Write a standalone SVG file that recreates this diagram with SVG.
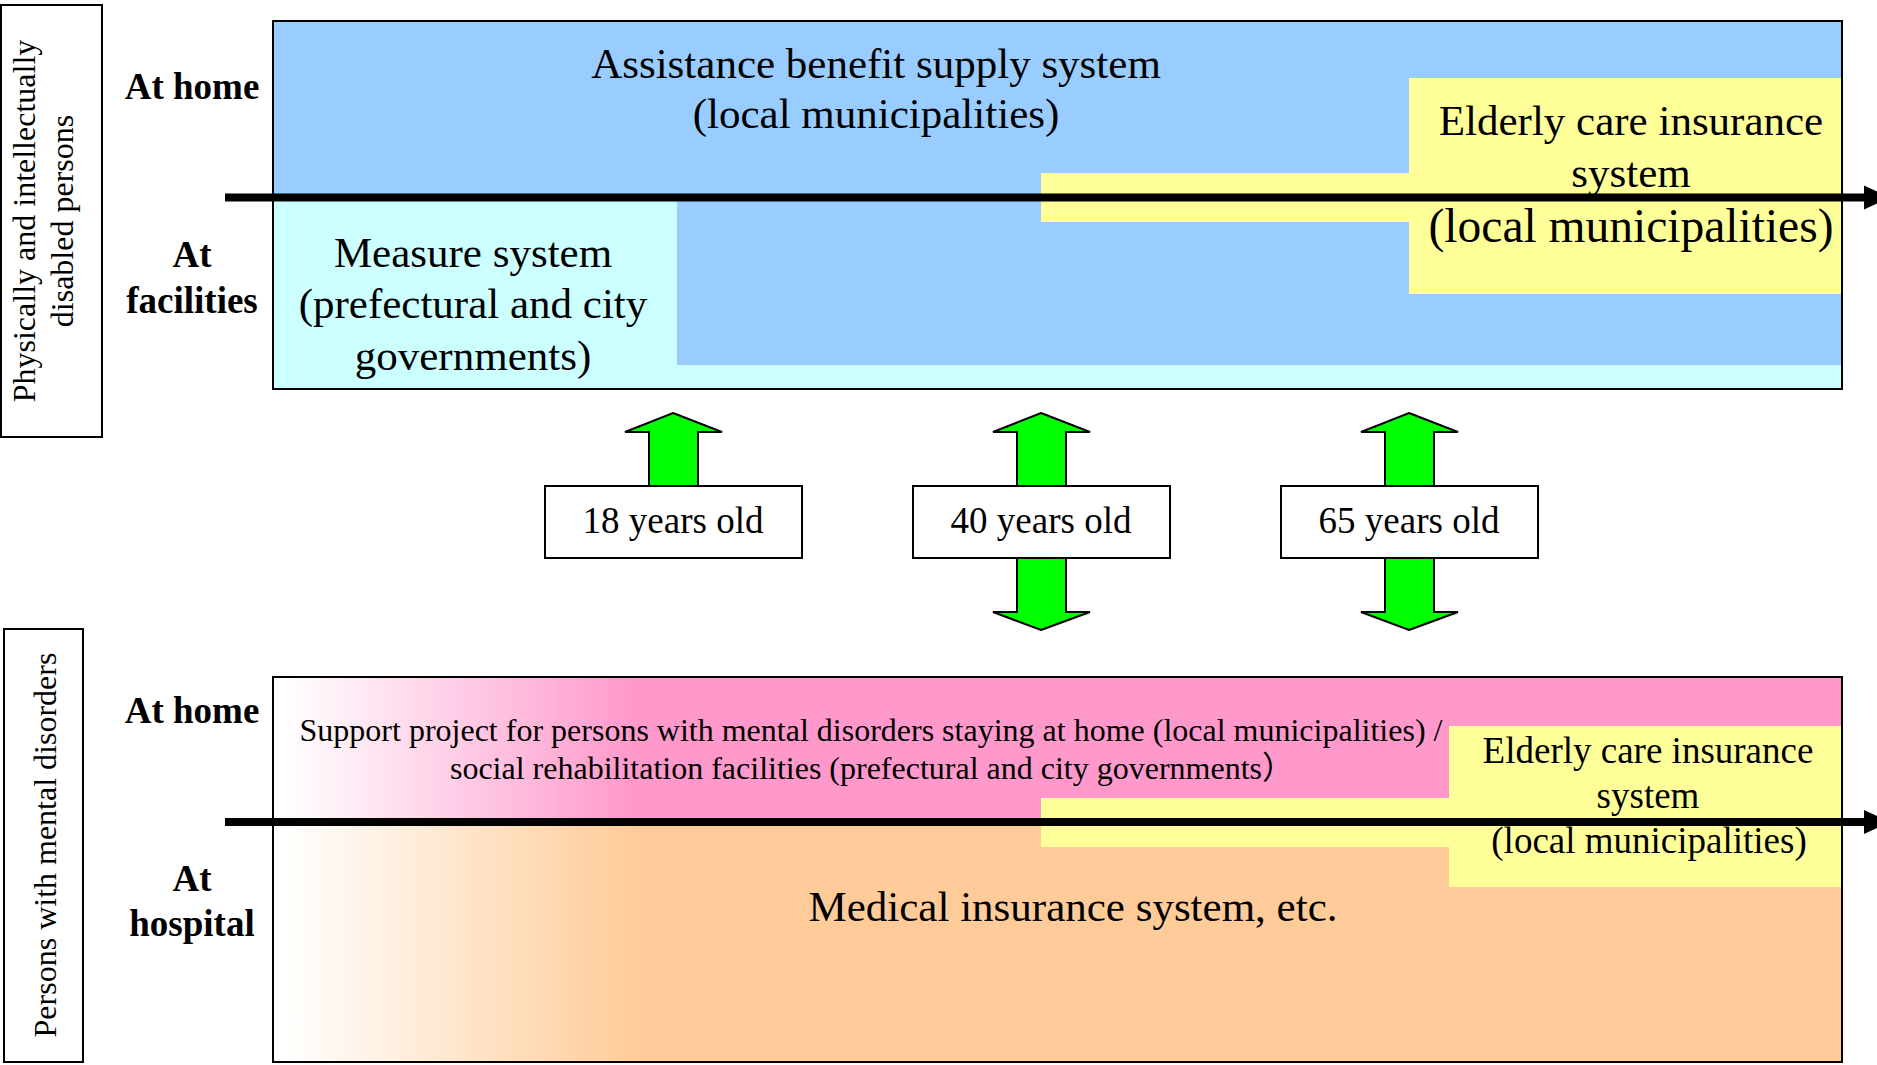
<svg xmlns="http://www.w3.org/2000/svg" width="1877" height="1065" viewBox="0 0 1877 1065">
<defs>
<linearGradient id="gPink" gradientUnits="userSpaceOnUse" x1="285" y1="0" x2="635" y2="0">
<stop offset="0" stop-color="#FFFFFF"/>
<stop offset="1" stop-color="#FF99CC"/>
</linearGradient>
<linearGradient id="gOrange" gradientUnits="userSpaceOnUse" x1="285" y1="0" x2="635" y2="0">
<stop offset="0" stop-color="#FFFFFF"/>
<stop offset="1" stop-color="#FFCC99"/>
</linearGradient>
<style>
text{font-family:"Liberation Serif","Times New Roman",serif;fill:#000}
.b{font-weight:bold;font-size:37px;text-anchor:middle}
.v{font-size:32px;text-anchor:middle}
.t43{font-size:43px;text-anchor:middle}
.t37{font-size:37px;text-anchor:middle}
.t32{font-size:32px;text-anchor:middle}
.frame{fill:none;stroke:#000;stroke-width:2}
.lbox{fill:#FFFFFF;stroke:#000;stroke-width:2}
.garrow{fill:#00FF00;stroke:#000;stroke-width:2;stroke-linejoin:miter}
.axis{stroke:#000;stroke-width:8;fill:none}
</style>
</defs>
<rect width="1877" height="1065" fill="#FFFFFF"/>

<g id="group-physical">
<rect class="frame" x="1" y="5" width="101" height="432"/>
<text class="v" transform="translate(35,221) rotate(-90)">Physically and intellectually</text>
<text class="v" transform="translate(73,221) rotate(-90)">disabled persons</text>
</g>

<g id="group-mental">
<rect class="frame" x="4" y="629" width="79" height="433"/>
<text class="v" transform="translate(56,845) rotate(-90)">Persons with mental disorders</text>
</g>

<g id="row-labels">
<text class="b" x="192" y="99">At home</text>
<text class="b" x="192" y="267">At</text>
<text class="b" x="192" y="313">facilities</text>
<text class="b" x="192" y="723">At home</text>
<text class="b" x="192" y="891">At</text>
<text class="b" x="192" y="936">hospital</text>
</g>

<g id="top-panel">
<rect x="273" y="21" width="1569" height="368" fill="#CCFFFF"/>
<rect x="273" y="21" width="1569" height="177" fill="#99CCFF"/>
<rect x="677" y="197" width="1165" height="168" fill="#99CCFF"/>
<g id="elderly-top">
<rect x="1041" y="173" width="801" height="49" fill="#FFFF99"/>
<rect x="1409" y="78" width="433" height="216" fill="#FFFF99"/>
</g>
<rect class="frame" x="273" y="21" width="1569" height="368"/>
<text class="t43" x="876" y="78">Assistance benefit supply system</text>
<text class="t43" x="876" y="128">(local municipalities)</text>
<text class="t43" x="473" y="267">Measure system</text>
<text class="t43" x="473" y="318">(prefectural and city</text>
<text class="t43" x="473" y="370">governments)</text>
<text class="t43" x="1631" y="135">Elderly care insurance</text>
<text class="t43" x="1631" y="187">system</text>
<text x="1631" y="242" style="font-size:47.5px;text-anchor:middle">(local municipalities)</text>
</g>

<g id="bottom-panel">
<rect x="273" y="677" width="1569" height="146" fill="url(#gPink)"/>
<rect x="273" y="822" width="1569" height="240" fill="url(#gOrange)"/>
<g id="elderly-bottom">
<rect x="1041" y="798" width="801" height="49" fill="#FFFF99"/>
<rect x="1449" y="726" width="393" height="161" fill="#FFFF99"/>
</g>
<rect class="frame" x="273" y="677" width="1569" height="385"/>
<text class="t32" x="871" y="741">Support project for persons with mental disorders staying at home (local municipalities) /</text>
<text class="t32" x="872" y="779" style="font-family:'Liberation Serif','Noto Sans CJK JP',serif">social rehabilitation facilities (prefectural and city governments）</text>
<text class="t37" x="1648" y="763">Elderly care insurance</text>
<text class="t37" x="1648" y="808">system</text>
<text class="t37" x="1649" y="853">(local municipalities)</text>
<text class="t43" x="1073" y="921">Medical insurance system, etc.</text>
</g>

<g id="connectors">
<line class="axis" x1="225" y1="197.5" x2="1866" y2="197.5"/>
<polygon points="1864,185.5 1890,197.5 1864,209.5" fill="#000"/>
<line class="axis" x1="225" y1="822" x2="1866" y2="822"/>
<polygon points="1864,810 1890,822 1864,834" fill="#000"/>
<polygon class="garrow" points="673,413 722,432 698,432 698,486 649,486 649,432 625,432"/>
<polygon class="garrow" points="1041,413 1090,432 1066,432 1066,486 1017,486 1017,432 993,432"/>
<polygon class="garrow" points="1041,630 1090,612 1066,612 1066,557 1017,557 1017,612 993,612"/>
<polygon class="garrow" points="1409,413 1458,432 1434,432 1434,486 1385,486 1385,432 1361,432"/>
<polygon class="garrow" points="1409,630 1458,612 1434,612 1434,557 1385,557 1385,612 1361,612"/>
</g>

<g id="age-18">
<rect class="lbox" x="545" y="486" width="257" height="72"/>
<text class="t37" x="673" y="533">18 years old</text>
</g>
<g id="age-40">
<rect class="lbox" x="913" y="486" width="257" height="72"/>
<text class="t37" x="1041" y="533">40 years old</text>
</g>
<g id="age-65">
<rect class="lbox" x="1281" y="486" width="257" height="72"/>
<text class="t37" x="1409" y="533">65 years old</text>
</g>
</svg>
